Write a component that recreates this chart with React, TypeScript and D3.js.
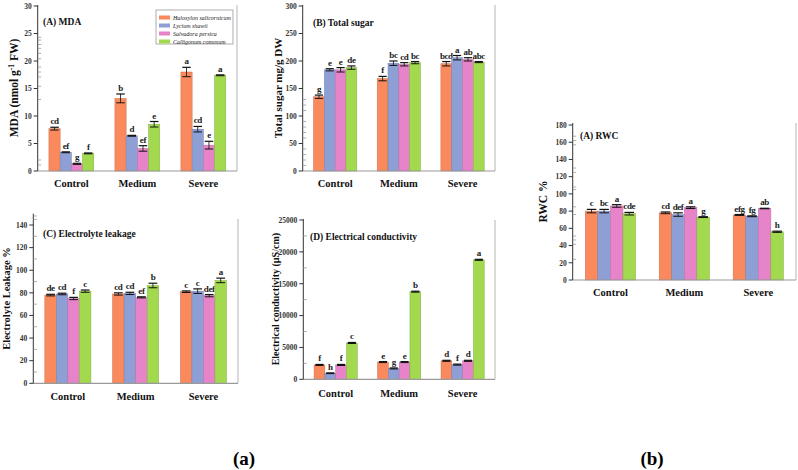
import React from 'react';
import * as d3 from 'd3';

const categories = ['Control', 'Medium', 'Severe'];
const species = ['Haloxylon salicornicum', 'Lycium shawii', 'Salvadora persica', 'Calligonum comosum'];
const colors = ['#FA8A5E', '#8E9FD6', '#E784C9', '#A2D94F'];

// rows: categories, cols: species
const mdaValues = [[7.7, 3.4, 1.3, 3.2], [13.2, 6.4, 4.1, 8.5], [18.0, 7.6, 4.7, 17.4]];
const mdaErrors = [[0.25, 0.08, 0.1, 0.08], [0.8, 0.08, 0.5, 0.5], [0.85, 0.5, 0.7, 0.08]];
const mdaLetters = [['cd', 'ef', 'g', 'f'], ['b', 'd', 'ef', 'e'], ['a', 'cd', 'e', 'a']];
const mdaTicks = [0, 5, 10, 15, 20, 25, 30];
const mdaMinor = [1.1, 2, 13, 15.4, 17.1, 18, 18.9, 20.4, 21.4, 22.3, 23, 23.8, 24.3];

const sugarValues = [[135, 184, 184, 188], [168, 196, 194, 197], [195, 206, 203, 198]];
const sugarErrors = [[3, 2, 4, 3], [4, 4, 3, 2], [4, 4, 3, 1]];
const sugarLetters = [['g', 'e', 'e', 'de'], ['f', 'bc', 'cd', 'bc'], ['bcd', 'a', 'ab', 'abc']];
const sugarTicks = [0, 50, 100, 150, 200, 250, 300];
const sugarMinor = [10, 20, 30, 40, 60, 70, 80, 90, 110, 120, 130];

const elValues = [[78, 79, 75, 81.5], [79, 79.5, 76, 86.5], [81, 81.5, 77.5, 91]];
const elErrors = [[0.7, 0.7, 1, 1], [1, 1, 0.5, 2], [0.7, 2, 1, 2]];
const elLetters = [['de', 'cd', 'f', 'c'], ['cd', 'cd', 'ef', 'b'], ['c', 'c', 'def', 'a']];
const elTicks = [0, 20, 40, 60, 80, 100, 120, 140];
const elMinor = [10, 30, 50, 70, 90, 110, 130, 145, 148];

const ecValues = [[2250, 950, 2250, 5700], [2700, 1700, 2700, 13750], [2900, 2300, 2900, 18750]];
const ecErrors = [[80, 60, 80, 80], [80, 80, 80, 80], [80, 80, 80, 80]];
const ecLetters = [['f', 'h', 'f', 'c'], ['e', 'g', 'e', 'b'], ['d', 'f', 'd', 'a']];
const ecTicks = [0, 5000, 10000, 15000, 20000, 25000];
const ecMinor = [2500, 7500, 12500, 17500, 22500];

const rwcValues = [[80, 80, 86, 77], [78, 76, 84, 73], [75.5, 74, 83, 56]];
const rwcErrors = [[2, 2, 1.5, 1.5], [1, 2, 1, 0.5], [0.5, 0.5, 0.3, 0.7]];
const rwcLetters = [['c', 'bc', 'a', 'cde'], ['cd', 'def', 'a', 'g'], ['efg', 'fg', 'ab', 'h']];
const rwcTicks = [0, 20, 40, 60, 80, 100, 120, 140, 160, 180];
const rwcMinor = [24, 41.5, 46.5, 51, 76, 85, 105, 108, 125, 130, 157, 162, 167];

const FONT = '"Liberation Serif", "Times New Roman", serif';

type PanelProps = {
  x0: number; x1: number; yBottom: number; yTopPx: number; yMax: number; axisTop: number; borderTop: number;
  values: number[][]; errors: number[][]; letters: string[][]; ticks: number[]; minor: number[];
  title: string; titleX: number; titleY: number; ylabel: React.ReactNode; ylabelX: number; ylabelSize: number;
  catY: number; legend?: boolean;
};

function Panel(p: PanelProps) {
  const y = d3.scaleLinear().domain([0, p.yMax]).range([p.yBottom, p.yTopPx]);
  const x = d3.scaleBand<string>().domain(categories).range([p.x0, p.x1]).paddingOuter(0.17).paddingInner(0.32);
  const xi = d3.scaleBand<string>().domain(species).range([0, x.bandwidth()]).padding(0);
  const bw = xi.bandwidth();
  const midY = (p.yBottom + p.axisTop) / 2;
  return (
    <g fontFamily={FONT}>
      <line x1={p.x1} x2={p.x1} y1={p.borderTop} y2={p.yBottom} stroke="#b5b5b5" strokeWidth={1} />
      {categories.map((c, ci) => (
        <g key={c}>
          {species.map((s, si) => {
            const v = p.values[ci][si];
            const e = p.errors[ci][si];
            const bx = (x(c) as number) + (xi(s) as number);
            const cx = bx + bw / 2;
            const top = y(v + e);
            return (
              <g key={s}>
                <rect x={bx} y={y(v)} width={bw} height={p.yBottom - y(v)} fill={colors[si]}
                  stroke={d3.color(colors[si])!.darker(0.6).toString()} strokeWidth={0.5} />
                <line x1={cx} x2={cx} y1={y(v - e)} y2={top} stroke="#222" strokeWidth={0.9} />
                <line x1={cx - bw * 0.38} x2={cx + bw * 0.38} y1={top} y2={top} stroke="#111" strokeWidth={1.2} />
                <line x1={cx - bw * 0.38} x2={cx + bw * 0.38} y1={y(v - e)} y2={y(v - e)} stroke="#111" strokeWidth={1} />
                <text x={cx} y={top - 3} textAnchor="middle" fontSize={9} fontWeight="bold" fill="#222"
                  letterSpacing={-0.4}>
                  {p.letters[ci][si]}
                </text>
              </g>
            );
          })}
          <text x={(x(c) as number) + x.bandwidth() / 2} y={p.catY} textAnchor="middle" fontSize={10.5}
            fontWeight="bold" fill="#111">{c}</text>
        </g>
      ))}
      <line x1={p.x0} x2={p.x1} y1={p.yBottom} y2={p.yBottom} stroke="#9a9a9a" strokeWidth={1.2} />
      <line x1={p.x0} x2={p.x0} y1={p.axisTop} y2={p.yBottom} stroke="#333" strokeWidth={1} />
      {p.ticks.map(t => (
        <g key={t}>
          <line x1={p.x0 - 4} x2={p.x0} y1={y(t)} y2={y(t)} stroke="#333" strokeWidth={1} />
          <text x={p.x0 - 6} y={y(t) + 2.8} textAnchor="end" fontSize={7.5} fontWeight="bold" fill="#333">{t}</text>
        </g>
      ))}
      {p.minor.map((t, i) => (
        <line key={i} x1={p.x0} x2={p.x0 + 3.5} y1={y(t)} y2={y(t)} stroke="#999" strokeWidth={0.8} />
      ))}
      <text x={p.titleX} y={p.titleY} fontSize={9.5} fontWeight="bold" fill="#111">{p.title}</text>
      <text transform={`translate(${p.ylabelX},${midY}) rotate(-90)`} textAnchor="middle" fontSize={p.ylabelSize}
        fontWeight="bold" fill="#111">{p.ylabel}</text>
      {p.legend && (
        <g>
          <rect x={156} y={10} width={77} height={34} fill="#fff" stroke="#999" strokeWidth={0.8} />
          {species.map((s, i) => (
            <g key={s}>
              <rect x={159} y={15.5 + i * 8} width={11} height={4} fill={colors[i]} />
              <text x={173} y={19.5 + i * 8} fontSize={6} fontStyle="italic" fill="#222">{s}</text>
            </g>
          ))}
        </g>
      )}
    </g>
  );
}

export default function App() {
  return (
    <svg width={798} height={470} style={{ position: 'absolute', left: 0, top: 0, background: '#fff' }}>
      <rect width={798} height={470} fill="#fff" />
      <Panel x0={37.7} x1={237} yBottom={171} yTopPx={6} yMax={30} axisTop={5} borderTop={5}
        values={mdaValues} errors={mdaErrors} letters={mdaLetters} ticks={mdaTicks} minor={mdaMinor}
        title="(A) MDA" titleX={43} titleY={24.5}
        ylabel={<>MDA (nmol g<tspan dy={-4} fontSize={7.5}>-1</tspan><tspan dy={4}> FW)</tspan></>}
        ylabelX={18} ylabelSize={11.5} catY={187} legend />
      <Panel x0={302.7} x1={495} yBottom={171} yTopPx={6} yMax={300} axisTop={5} borderTop={5}
        values={sugarValues} errors={sugarErrors} letters={sugarLetters} ticks={sugarTicks} minor={sugarMinor}
        title="(B) Total sugar" titleX={313} titleY={25.5}
        ylabel="Total sugar mg/g DW" ylabelX={282} ylabelSize={11} catY={187} />
      <Panel x0={33.3} x1={238} yBottom={383.3} yTopPx={213.7} yMax={150} axisTop={213.7} borderTop={219}
        values={elValues} errors={elErrors} letters={elLetters} ticks={elTicks} minor={elMinor}
        title="(C) Electrolyte leakage" titleX={43} titleY={236.5}
        ylabel="Electrolyte Leakage %" ylabelX={10} ylabelSize={10.5} catY={400} />
      <Panel x0={303.3} x1={495} yBottom={379.3} yTopPx={220} yMax={25000} axisTop={219} borderTop={220}
        values={ecValues} errors={ecErrors} letters={ecLetters} ticks={ecTicks} minor={ecMinor}
        title="(D) Electrical conductivity" titleX={310} titleY={240}
        ylabel="Electrical conductivity (µS/cm)" ylabelX={279} ylabelSize={10} catY={396.5} />
      <Panel x0={572.7} x1={796} yBottom={280} yTopPx={125} yMax={180} axisTop={123} borderTop={123}
        values={rwcValues} errors={rwcErrors} letters={rwcLetters} ticks={rwcTicks} minor={rwcMinor}
        title="(A) RWC" titleX={580} titleY={139}
        ylabel="RWC %" ylabelX={547} ylabelSize={11.5} catY={295.5} />
      <text x={244} y={465} textAnchor="middle" fontSize={19} fontWeight="bold" fontFamily={FONT}>(a)</text>
      <text x={652} y={465} textAnchor="middle" fontSize={19} fontWeight="bold" fontFamily={FONT}>(b)</text>
    </svg>
  );
}
